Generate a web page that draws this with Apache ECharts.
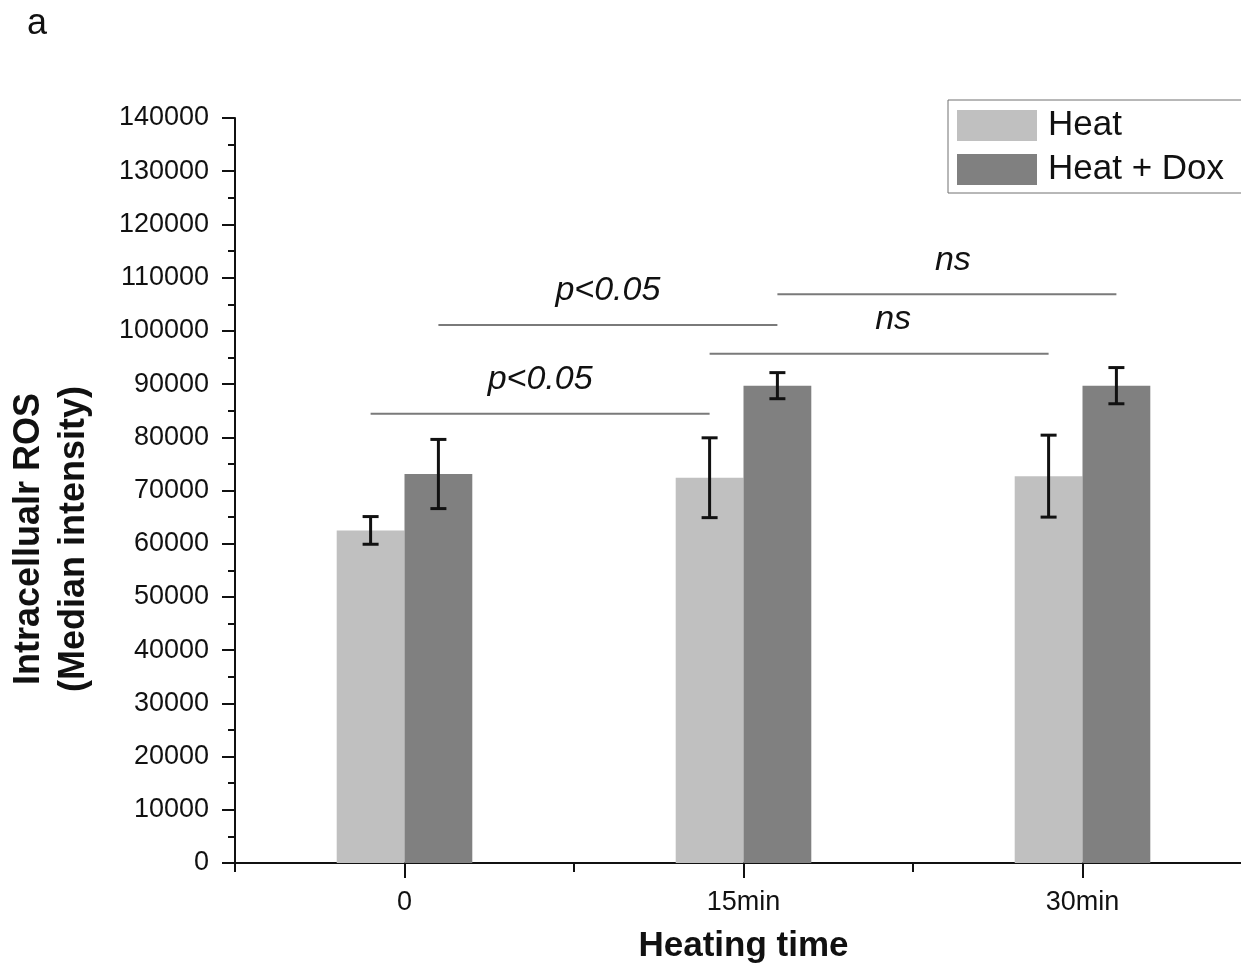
<!DOCTYPE html>
<html>
<head>
<meta charset="utf-8">
<title>Intracellular ROS vs heating time</title>
<script src="https://cdn.jsdelivr.net/npm/echarts@6/dist/echarts.min.js"></script>
<style>
  html, body { margin: 0; padding: 0; background: #ffffff; }
  #chart { width: 1241px; height: 965px; }
</style>
</head>
<body>
<div id="chart"></div>
<script>
// Heating time groups
const categories = ['0', '15min', '30min'];

// Median intensity of intracellular ROS and its error (±)
const heatValues = [62500, 72400, 72700];
const heatErrors = [2600, 7500, 7700];
const doxValues  = [73100, 89700, 89700];
const doxErrors  = [6500, 2450, 3400];

// Significance brackets: start/end group, series the bracket ends sit on, level, text
const sigStartCat = [0, 0, 1, 1];
const sigEndCat   = [1, 1, 2, 2];
const sigSeries   = [0, 1, 0, 1];
const sigLevels   = [84400, 101100, 95700, 106900];
const sigLabels   = ['p<0.05', 'p<0.05', 'ns', 'ns'];

const FONT = '"Liberation Sans", Arial, Helvetica, sans-serif';
const BAR_FRACTION = 0.2;              // bar width as a share of the category band
const SIG_LABEL_SHIFT = [0, 0, 14, 6]; // horizontal nudge of each bracket label, px

// centre of a bar: category centre shifted by half a bar width left (series 0) or right (series 1)
function barCenterX(api, cat, seriesIdx, value) {
  const pt = api.coord([cat, value]);
  const band = api.size([1, 0])[0];
  const half = band * BAR_FRACTION / 2;
  return [pt[0] + (seriesIdx === 0 ? -half : half), pt[1]];
}

function errorData(values, errors) {
  return values.map((v, i) => [i, v - errors[i], v + errors[i]]);
}

function makeErrorRenderer(seriesIdx) {
  return function (params, api) {
    const cat = api.value(0);
    const lo = barCenterX(api, cat, seriesIdx, api.value(1));
    const hi = barCenterX(api, cat, seriesIdx, api.value(2));
    const cap = 8;
    const style = { stroke: '#111', lineWidth: 3, fill: null };
    return {
      type: 'group',
      children: [
        { type: 'line', shape: { x1: hi[0], y1: hi[1], x2: lo[0], y2: lo[1] }, style },
        { type: 'line', shape: { x1: hi[0] - cap, y1: hi[1], x2: hi[0] + cap, y2: hi[1] }, style },
        { type: 'line', shape: { x1: lo[0] - cap, y1: lo[1], x2: lo[0] + cap, y2: lo[1] }, style }
      ]
    };
  };
}

const sigData = sigLevels.map((lv, i) => [sigStartCat[i], sigEndCat[i], sigSeries[i], lv, i]);

function renderSig(params, api) {
  const s = api.value(2);
  const lv = api.value(3);
  const idx = api.value(4);
  const a = barCenterX(api, api.value(0), s, lv);
  const b = barCenterX(api, api.value(1), s, lv);
  return {
    type: 'group',
    children: [
      { type: 'line', shape: { x1: a[0], y1: a[1], x2: b[0], y2: b[1] },
        style: { stroke: '#7a7a7a', lineWidth: 2 } },
      { type: 'text',
        style: { text: sigLabels[idx], x: (a[0] + b[0]) / 2 + SIG_LABEL_SHIFT[idx], y: a[1] - 17,
                 align: 'center', verticalAlign: 'bottom',
                 font: 'italic 34px ' + FONT, fill: '#111' } }
    ]
  };
}

const chart = echarts.init(document.getElementById('chart'), null, { renderer: 'canvas' });

chart.setOption({
  backgroundColor: '#ffffff',
  animation: false,
  grid: { left: 235, top: 118, width: 1017, height: 745, containLabel: false, outerBoundsMode: 'none' },
  legend: {
    orient: 'vertical',
    left: 948,
    top: 100,
    padding: [8, 60, 6, 9],
    itemWidth: 80,
    itemHeight: 31,
    itemGap: 9,
    icon: 'rect',
    borderColor: '#707070',
    borderWidth: 1,
    borderRadius: 0,
    textStyle: { fontFamily: FONT, fontSize: 35, color: '#111', padding: [0, 0, 0, 6] },
    data: ['Heat', 'Heat + Dox']
  },
  xAxis: [
    {
      type: 'category',
      data: categories,
      name: 'Heating time',
      nameLocation: 'middle',
      nameGap: 66,
      nameTextStyle: { fontFamily: FONT, fontSize: 35, fontWeight: 'bold', color: '#111' },
      axisLine: { lineStyle: { color: '#111', width: 2 } },
      axisTick: { show: true, alignWithLabel: false, length: 9, lineStyle: { color: '#111', width: 2 } },
      axisLabel: { fontFamily: FONT, fontSize: 27, color: '#111', margin: 26 },
      splitLine: { show: false }
    },
    {
      // ticks at the group centres
      type: 'category',
      data: categories,
      position: 'bottom',
      axisLine: { show: false },
      axisTick: { show: true, alignWithLabel: true, length: 15, lineStyle: { color: '#111', width: 2 } },
      axisLabel: { show: false },
      splitLine: { show: false }
    }
  ],
  yAxis: {
    type: 'value',
    min: 0,
    max: 140000,
    interval: 10000,
    axisLine: { show: true, lineStyle: { color: '#111', width: 2 } },
    axisTick: { show: true, length: 13, lineStyle: { color: '#111', width: 2 } },
    minorTick: { show: true, splitNumber: 2, length: 7, lineStyle: { color: '#111', width: 2 } },
    axisLabel: { fontFamily: FONT, fontSize: 27, color: '#111', margin: 26,
                 formatter: (v) => String(v) },
    splitLine: { show: false }
  },
  graphic: [
    {
      type: 'text',
      left: 27, top: 6,
      style: { text: 'a', font: '36px ' + FONT, fill: '#111' }
    },
    {
      type: 'text',
      x: 52, y: 539,
      rotation: Math.PI / 2,
      style: {
        text: 'Intracellualr ROS\n(Median intensity)',
        font: 'bold 36px ' + FONT,
        lineHeight: 45,
        align: 'center',
        verticalAlign: 'middle',
        fill: '#111'
      }
    }
  ],
  series: [
    {
      name: 'Heat',
      type: 'bar',
      data: heatValues,
      barWidth: (BAR_FRACTION * 100) + '%',
      barGap: '0%',
      itemStyle: { color: '#c0c0c0' },
      z: 2
    },
    {
      name: 'Heat + Dox',
      type: 'bar',
      data: doxValues,
      barWidth: (BAR_FRACTION * 100) + '%',
      barGap: '0%',
      itemStyle: { color: '#808080' },
      z: 2
    },
    {
      type: 'custom',
      renderItem: makeErrorRenderer(0),
      data: errorData(heatValues, heatErrors),
      encode: { x: 0, y: [1, 2] },
      z: 5,
      clip: false
    },
    {
      type: 'custom',
      renderItem: makeErrorRenderer(1),
      data: errorData(doxValues, doxErrors),
      encode: { x: 0, y: [1, 2] },
      z: 5,
      clip: false
    },
    {
      type: 'custom',
      renderItem: renderSig,
      data: sigData,
      encode: { x: [0, 1], y: 3 },
      z: 4,
      clip: false,
      silent: true
    }
  ]
});
</script>
</body>
</html>
